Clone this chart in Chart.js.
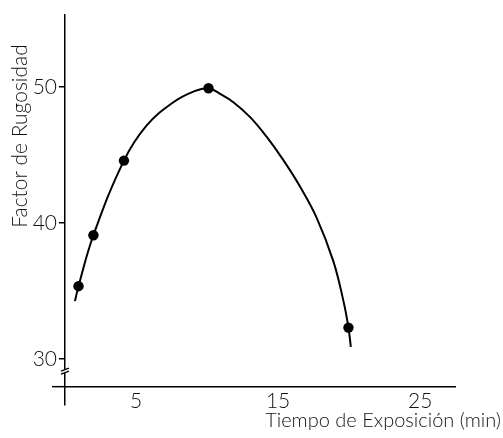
<!DOCTYPE html>
<html><head><meta charset="utf-8">
<script src="https://cdn.jsdelivr.net/npm/chart.js@4/dist/chart.umd.min.js"></script>
<style>html,body{margin:0;padding:0;background:#fff;}canvas{display:block;}</style>
</head><body>
<canvas id="c" width="503" height="438"></canvas>
<script>
// Measured points (time in min, roughness factor)
const timeMin = [0.95, 2.0, 4.15, 10.1, 19.95];
const roughness = [35.35, 39.1, 44.6, 49.93, 32.3];
// Hand-drawn fitted curve
const curveTime = [0.7, 0.95, 2.0, 4.15, 5.75, 7.63, 9.04, 10.1, 10.92, 11.85, 13.03, 14.2, 15.37, 16.55, 17.73, 18.89, 19.6, 19.95, 20.12];
const curveRoughness = [34.25, 35.35, 39.1, 44.6, 47.19, 48.9, 49.68, 49.93, 49.51, 48.9, 47.8, 46.34, 44.63, 42.67, 40.35, 37.18, 34.25, 32.3, 30.88];
const xTicks = [5, 15, 25];
const yTicks = [30, 40, 50];
const xTitle = 'Tiempo de Exposición (min)';
const yTitle = 'Factor de Rugosidad';
const breakAt = 29.1;
const xAxisAt = 27.95;

const FONT = 'Lato';
const ink = '#111';

const decor = {
  id: 'decor',
  afterDraw(chart) {
    const ctx = chart.ctx;
    const x0 = chart.scales.x.getPixelForValue(0);
    const yAxisPx = chart.scales.y.getPixelForValue(xAxisAt);
    // short extension of the x axis to the left of the y axis
    ctx.save();
    ctx.strokeStyle = '#000';
    ctx.lineWidth = 1.5;
    ctx.beginPath();
    ctx.moveTo(52, yAxisPx); ctx.lineTo(x0, yAxisPx);
    ctx.stroke();
    ctx.restore();
    // axis titles
    ctx.save();
    ctx.fillStyle = ink;
    ctx.font = '300 20px ' + FONT;
    ctx.textAlign = 'right';
    ctx.textBaseline = 'alphabetic';
    ctx.fillText(xTitle, 501, 427);
    ctx.font = '300 21px ' + FONT;
    ctx.translate(27, 136);
    ctx.rotate(-Math.PI / 2);
    ctx.textAlign = 'center';
    ctx.fillText(yTitle, 0, 0);
    ctx.restore();
    // axis break mark
    const yb = chart.scales.y.getPixelForValue(breakAt);
    ctx.save();
    ctx.fillStyle = '#fff';
    ctx.fillRect(x0 - 2, yb - 2, 4, 4);
    ctx.strokeStyle = '#000';
    ctx.lineWidth = 1.4;
    ctx.beginPath();
    ctx.moveTo(x0 - 4, yb); ctx.lineTo(x0 + 4, yb - 3);
    ctx.moveTo(x0 - 4, yb + 3); ctx.lineTo(x0 + 4, yb);
    ctx.stroke();
    ctx.restore();
  }
};

new Chart(document.getElementById('c'), {
  type: 'scatter',
  data: {
    datasets: [
      {
        data: curveTime.map((t, i) => ({x: t, y: curveRoughness[i]})),
        showLine: true,
        tension: 0.4,
        borderColor: '#000',
        borderWidth: 2,
        pointRadius: 0,
        fill: false
      },
      {
        data: timeMin.map((t, i) => ({x: t, y: roughness[i]})),
        showLine: false,
        pointRadius: 5.2,
        pointBackgroundColor: '#000',
        pointBorderColor: '#000',
        pointBorderWidth: 0
      }
    ]
  },
  options: {
    responsive: false,
    devicePixelRatio: 1,
    animation: false,
    layout: {padding: {left: 0, right: 48, top: 12, bottom: 33}},
    plugins: {legend: {display: false}, tooltip: {enabled: false}},
    scales: {
      x: {
        type: 'linear', min: 0, max: 27.45,
        position: {y: xAxisAt},
        grid: {display: false, drawOnChartArea: false, drawTicks: false},
        border: {display: true, color: '#000', width: 1.5},
        afterBuildTicks: s => { s.ticks = xTicks.map(v => ({value: v})); },
        ticks: {color: ink, font: {family: FONT, size: 21, weight: '300'}, padding: 2, maxRotation: 0}
      },
      y: {
        type: 'linear', min: 26.6, max: 55.35,
        position: 'left',
        afterFit: s => { s.width = 65; },
        grid: {display: true, drawOnChartArea: false, drawTicks: true, tickLength: 6, color: '#000', lineWidth: 1.5},
        border: {display: true, color: '#000', width: 1.5},
        afterBuildTicks: s => { s.ticks = yTicks.map(v => ({value: v})); },
        ticks: {color: ink, font: {family: FONT, size: 21, weight: '300'}, padding: 2}
      }
    }
  },
  plugins: [decor]
});
</script>
</body></html>
